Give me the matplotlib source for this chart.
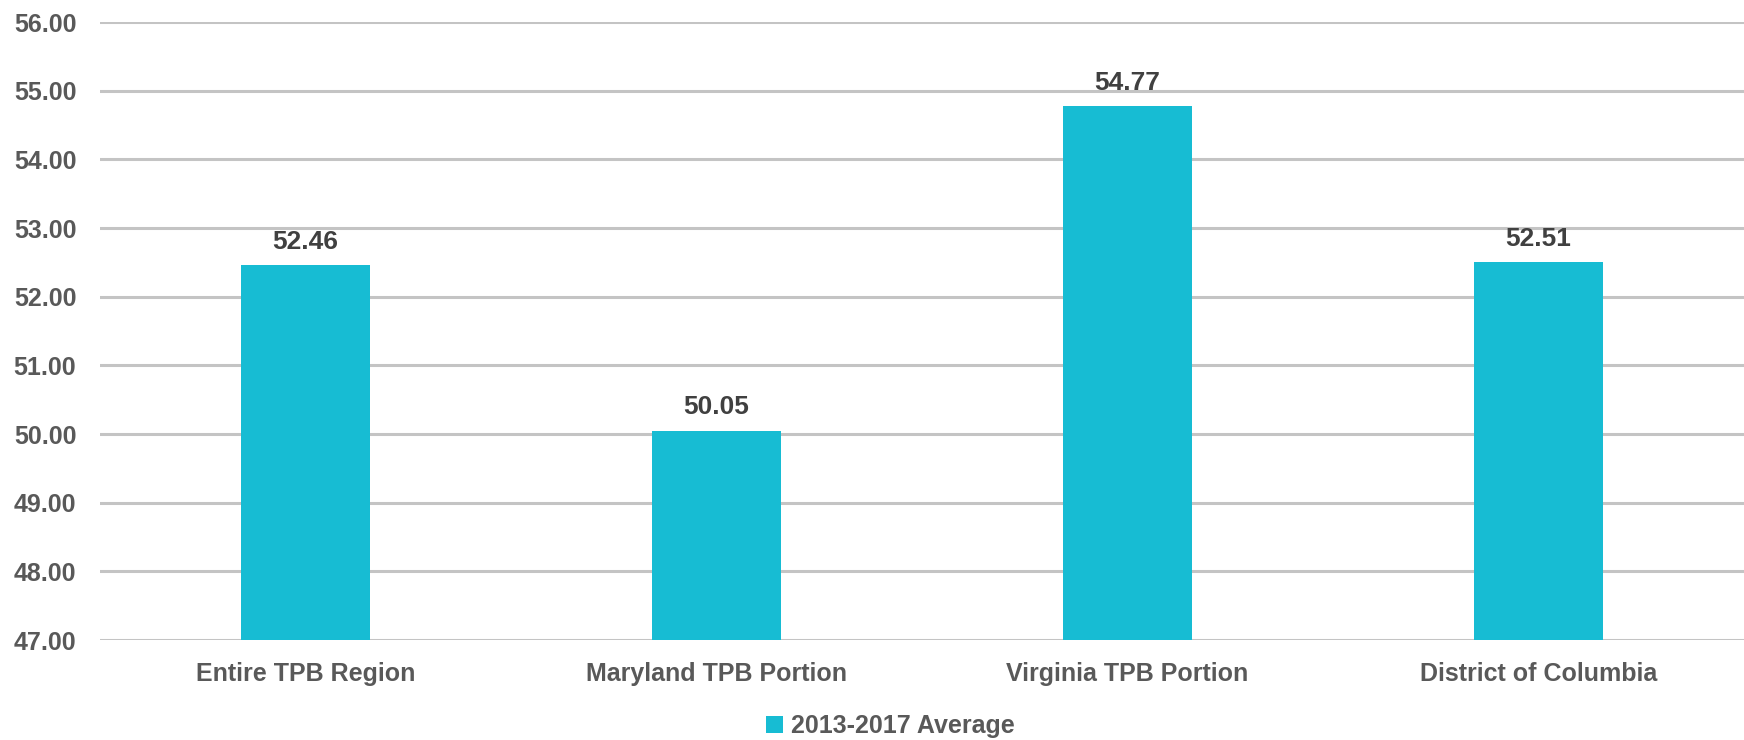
import matplotlib
matplotlib.use('Agg')
import matplotlib.pyplot as plt
from matplotlib.patches import Patch

categories = ['Entire TPB Region', 'Maryland TPB Portion',
              'Virginia TPB Portion', 'District of Columbia']
values = [52.46, 50.05, 54.77, 52.51]
series_label = '2013-2017 Average'
yticks = [47, 48, 49, 50, 51, 52, 53, 54, 55, 56]

bar_color = '#17bcd3'
grid_color = '#c4c4c4'
tick_color = '#595959'

plt.rcParams['font.family'] = ['Liberation Sans', 'DejaVu Sans']
plt.rcParams['font.weight'] = 'bold'

fig = plt.figure(figsize=(17.44, 7.4), dpi=100)
ax = fig.add_axes([100 / 1744, 1 - 640 / 740, 1644 / 1744, (640 - 22) / 740])

x = range(len(categories))
ax.bar(x, values, width=0.314, color=bar_color, zorder=3)
ax.set_ylim(47, 56)
ax.set_xlim(-0.5, len(categories) - 0.5)

# value labels above the bars
for xi, v in zip(x, values):
    ax.annotate(f'{v:.2f}', (xi, v), xytext=(0, 8), textcoords='offset points',
                ha='center', va='bottom', fontsize=19, fontweight='bold',
                color='#404040')

ax.set_yticks(yticks)
ax.set_yticklabels([f'{t:.2f}' for t in yticks], fontsize=18,
                   fontweight='bold', color=tick_color)
ax.set_xticks(list(x))
ax.set_xticklabels(categories, fontsize=18, fontweight='bold', color=tick_color)
ax.tick_params(axis='both', length=0)
ax.tick_params(axis='y', pad=17)
ax.tick_params(axis='x', pad=16)

for t in yticks:
    ax.axhline(t, color=grid_color, linewidth=2.2, zorder=1)
for s in ax.spines.values():
    s.set_visible(False)

handle = Patch(facecolor=bar_color, edgecolor='none')
fig.legend([handle], [series_label], loc='center',
           bbox_to_anchor=(890 / 1744, 1 - 726 / 740), frameon=False,
           handlelength=0.7, handleheight=0.7, handletextpad=0.3,
           prop={'size': 18, 'weight': 'bold'}, labelcolor=tick_color)

fig.savefig('out.png', dpi=100)
